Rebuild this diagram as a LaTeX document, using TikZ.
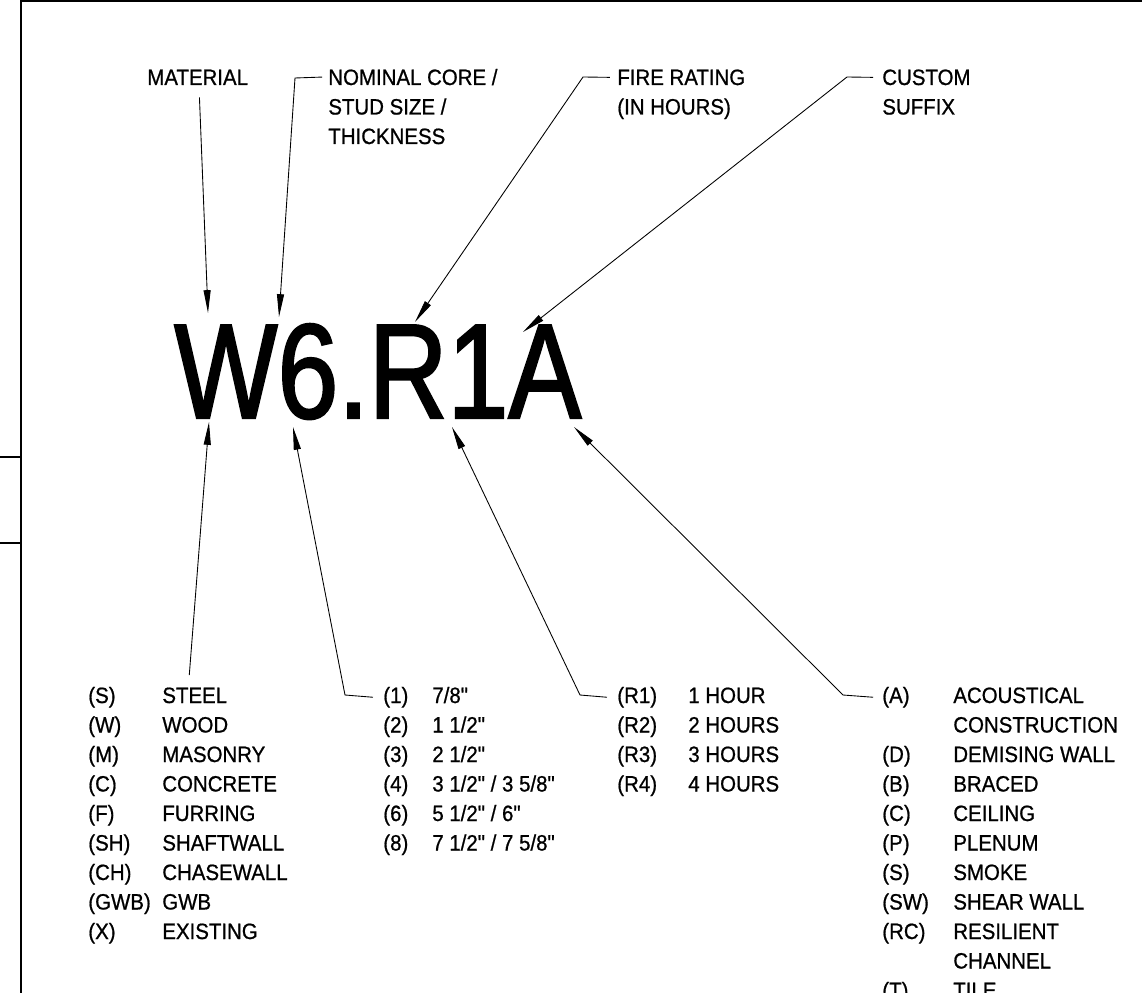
\documentclass[tikz,border=0pt]{standalone}
\usepackage{fontspec}
\setmainfont[FakeStretch=0.92, FakeBold=0.8, Ligatures=TeXOff]{Liberation Sans}
\newfontfamily\tagfont[FakeStretch=0.81, FakeBold=1.6]{Liberation Sans}
\usetikzlibrary{arrows.meta}

\begin{document}
\begin{tikzpicture}[
    x=0.02cm, y=-0.02cm,
    lbl/.style={anchor=base west, inner sep=0pt, font=\fontsize{12.64}{15}\selectfont},
    tag/.style={anchor=base west, inner sep=0pt, font=\tagfont\fontsize{76.8}{80}\selectfont},
    arrow/.style={-{Triangle[length=13pt, width=4pt]}, line width=0.5pt},
    frame/.style={line width=1.7pt}
]
\path[use as bounding box] (0,0) rectangle (1142,993);
\clip (0,0) rectangle (1142,993);

% Sheet border
\draw[frame] (21,0) -- (21,993);
\draw[line width=1.1pt] (21,1) -- (1142,1);
\draw[line width=0.8pt] (0,457) -- (21,457);
\draw[line width=1.4pt] (0,543) -- (21,543);

% Wall tag
\node[tag] (tag) at (174,418) {W6.R1A};

% Top labels
\node[lbl] (mat) at (147,85) {MATERIAL};
\node[lbl] (nom) at (328,85) {NOMINAL CORE /};
\node[lbl] (nom2) at (328,114.5) {STUD SIZE /};
\node[lbl] (nom3) at (328,144) {THICKNESS};
\node[lbl] (fire) at (617,85) {FIRE RATING};
\node[lbl] (fire2) at (617,114.5) {(IN HOURS)};
\node[lbl] (suf) at (882,85) {CUSTOM};
\node[lbl] (suf2) at (882,114.5) {SUFFIX};

% Tips and bends
\coordinate (tipMat) at (208,313);
\coordinate (tipNom) at (279,317);
\coordinate (tipFire) at (415,322);
\coordinate (tipSuf) at (523,332);
\coordinate (tipSteel) at (209,422);
\coordinate (tipCore) at (293,427);
\coordinate (tipRate) at (452,427);
\coordinate (tipAc) at (574,427);
\coordinate (nomCorner) at (295,78);
\coordinate (fireCorner) at (583,77);
\coordinate (sufCorner) at (847,77);
\coordinate (coreCorner) at (345,695);
\coordinate (rateCorner) at (580,695);
\coordinate (acCorner) at (843,695);

% Material list
\node[lbl] (s1) at (88,703) {(S)};    \node[lbl] (ds1) at (162,703) {STEEL};
\node[lbl] (s2) at (88,732.5) {(W)};  \node[lbl] (ds2) at (162,732.5) {WOOD};
\node[lbl] (s3) at (88,762) {(M)};    \node[lbl] (ds3) at (162,762) {MASONRY};
\node[lbl] (s4) at (88,791.5) {(C)};  \node[lbl] (ds4) at (162,791.5) {CONCRETE};
\node[lbl] (s5) at (88,821) {(F)};    \node[lbl] (ds5) at (162,821) {FURRING};
\node[lbl] (s6) at (88,850.5) {(SH)}; \node[lbl] (ds6) at (162,850.5) {SHAFTWALL};
\node[lbl] (s7) at (88,880) {(CH)};   \node[lbl] (ds7) at (162,880) {CHASEWALL};
\node[lbl] (s8) at (88,909.5) {(GWB)};\node[lbl] (ds8) at (162,909.5) {GWB};
\node[lbl] (s9) at (88,939) {(X)};    \node[lbl] (ds9) at (162,939) {EXISTING};

% Size list
\node[lbl] (c1) at (383,703) {(1)};   \node[lbl] (dc1) at (432,703) {7/8"};
\node[lbl] (c2) at (383,732.5) {(2)}; \node[lbl] (dc2) at (432,732.5) {1 1/2"};
\node[lbl] (c3) at (383,762) {(3)};   \node[lbl] (dc3) at (432,762) {2 1/2"};
\node[lbl] (c4) at (383,791.5) {(4)}; \node[lbl] (dc4) at (432,791.5) {3 1/2" / 3 5/8"};
\node[lbl] (c5) at (383,821) {(6)};   \node[lbl] (dc5) at (432,821) {5 1/2" / 6"};
\node[lbl] (c6) at (383,850.5) {(8)}; \node[lbl] (dc6) at (432,850.5) {7 1/2" / 7 5/8"};

% Rating list
\node[lbl] (r1) at (617,703) {(R1)};   \node[lbl] (dr1) at (688,703) {1 HOUR};
\node[lbl] (r2) at (617,732.5) {(R2)}; \node[lbl] (dr2) at (688,732.5) {2 HOURS};
\node[lbl] (r3) at (617,762) {(R3)};   \node[lbl] (dr3) at (688,762) {3 HOURS};
\node[lbl] (r4) at (617,791.5) {(R4)}; \node[lbl] (dr4) at (688,791.5) {4 HOURS};

% Suffix list
\node[lbl] (a1) at (882,703) {(A)};    \node[lbl] (da1) at (953,703) {ACOUSTICAL};
                                       \node[lbl] (da1b) at (953,732.5) {CONSTRUCTION};
\node[lbl] (a2) at (882,762) {(D)};    \node[lbl] (da2) at (953,762) {DEMISING WALL};
\node[lbl] (a3) at (882,791.5) {(B)};  \node[lbl] (da3) at (953,791.5) {BRACED};
\node[lbl] (a4) at (882,821) {(C)};    \node[lbl] (da4) at (953,821) {CEILING};
\node[lbl] (a5) at (882,850.5) {(P)};  \node[lbl] (da5) at (953,850.5) {PLENUM};
\node[lbl] (a6) at (882,880) {(S)};    \node[lbl] (da6) at (953,880) {SMOKE};
\node[lbl] (a7) at (882,909.5) {(SW)}; \node[lbl] (da7) at (953,909.5) {SHEAR WALL};
\node[lbl] (a8) at (882,939) {(RC)};   \node[lbl] (da8) at (953,939) {RESILIENT};
                                       \node[lbl] (da8b) at (953,968.5) {CHANNEL};
\node[lbl] (a9) at (882,998) {(T)};    \node[lbl] (da9) at (953,998) {TILE};

% Leaders from top
\draw[arrow] ([xshift=1pt, yshift=-6.8pt]mat.south) -- (tipMat);
\draw[arrow] ([xshift=-3.4pt]nom.west) -- (nomCorner) -- (tipNom);
\draw[arrow] ([xshift=-4pt]fire.west) -- (fireCorner) -- (tipFire);
\draw[arrow] ([xshift=-5pt]suf.west) -- (sufCorner) -- (tipSuf);

% Leaders from bottom
\draw[arrow] ([xshift=-3.1pt, yshift=6.8pt]ds1.north) -- (tipSteel);
\draw[arrow] ([xshift=-5.7pt]c1.west) -- (coreCorner) -- (tipCore);
\draw[arrow] ([xshift=-5.7pt]r1.west) -- (rateCorner) -- (tipRate);
\draw[arrow] ([xshift=-5pt]a1.west) -- (acCorner) -- (tipAc);

\end{tikzpicture}
\end{document}
